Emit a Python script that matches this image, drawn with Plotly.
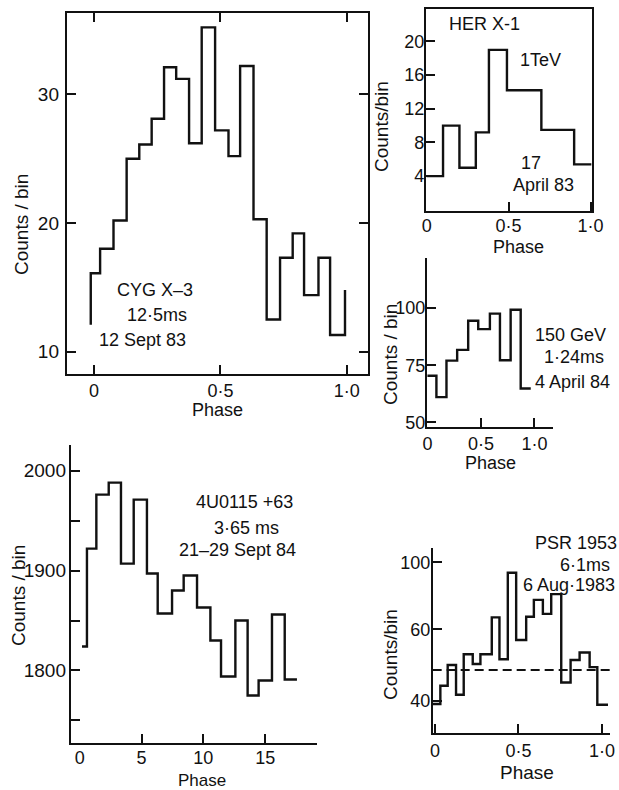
import plotly.graph_objects as go

# ---------------------------------------------------------------
# Phase histograms: bin edges (phase) and counts per bin
# ---------------------------------------------------------------
cyg_edges = [-0.013, 0.024, 0.077, 0.129, 0.179, 0.228, 0.277, 0.325, 0.376, 0.426,
             0.479, 0.532, 0.578, 0.631, 0.683, 0.736, 0.786, 0.831, 0.888, 0.934, 0.993]
cyg_counts = [16.1, 18.0, 20.2, 25.0, 26.1, 28.1, 32.1, 31.2, 26.2, 35.2,
              27.2, 25.2, 32.2, 20.3, 12.5, 17.3, 19.2, 14.4, 17.3, 11.3]
cyg_lead, cyg_trail = 12.1, 14.8

her_edges = [0.0, 0.1, 0.2, 0.3, 0.38, 0.49, 0.7, 0.9, 1.005]
her_counts = [4.0, 10.0, 5.0, 9.2, 19.0, 14.2, 9.5, 5.4]

gev_edges = [0.0, 0.084, 0.178, 0.278, 0.381, 0.475, 0.584, 0.678, 0.778, 0.872, 0.966]
gev_counts = [70.4, 61.0, 77.0, 81.7, 94.5, 90.8, 97.6, 77.2, 99.3, 64.8]

u_edges = [0.19, 0.59, 1.35, 2.35, 3.34, 4.37, 5.44, 6.31, 7.47, 8.41,
           9.49, 10.57, 11.43, 12.59, 13.58, 14.47, 15.55, 16.58, 17.57]
u_counts = [1824, 1922, 1976, 1988, 1907, 1971, 1897, 1857, 1880,
            1895, 1863, 1830, 1794, 1850, 1775, 1790, 1856, 1791]

psr_edges = [-0.014, 0.032, 0.076, 0.126, 0.172, 0.226, 0.272, 0.34, 0.386, 0.436,
             0.486, 0.546, 0.592, 0.646, 0.696, 0.756, 0.812, 0.866, 0.926, 0.972, 1.036]
psr_counts = [39.1, 44.2, 50.0, 41.7, 53.0, 50.3, 53.0, 63.3, 51.6, 75.8,
              57.0, 63.5, 68.2, 64.3, 69.8, 45.1, 51.4, 53.5, 49.4, 38.9]
psr_mean = 48.6

# tick values and printed tick labels
phase_ticks = [0, 0.5, 1.0]
phase_labels = ["0", "0·5", "1·0"]
cyg_yticks = [10, 20, 30]
her_yticks = [4, 8, 12, 16, 20]
gev_yticks = [50, 75, 100]
u_xticks = [0, 5, 10, 15]
u_yticks = [1750, 1800, 1850, 1900, 1950, 2000]
u_ylabels = ["", "1800", "", "1900", "", "2000"]
psr_yticks = [40, 60, 78.7]
psr_ylabels = ["40", "60", "100"]

W, H = 619, 790
FONT = "Liberation Sans, Arial, sans-serif"
INK = "#111111"
LW = 2.4


def fx(px):
    return px / W


def fy(py):
    return 1 - py / H


def steps(edges, counts, lead=None, trail=None):
    xs = list(edges)
    ys = list(counts) + [counts[-1]]
    if lead is not None:
        xs = [edges[0]] + xs
        ys = [lead] + ys
    if trail is not None:
        xs = xs + [edges[-1]]
        ys = ys + [trail]
    return xs, ys


def xaxis(left, right, rng, tickvals, ticktext, anchor, mirror=False, minor=None, size=18,
          standoff=0):
    ax = dict(domain=[fx(left), fx(right)], range=rng, anchor=anchor, automargin=False,
              showline=True, linecolor=INK, linewidth=LW, mirror=mirror,
              ticks="inside", ticklen=9, tickwidth=LW, tickcolor=INK,
              tickvals=tickvals, ticktext=ticktext, showgrid=False, zeroline=False,
              tickfont=dict(family=FONT, size=size, color=INK), ticklabelstandoff=standoff)
    if minor is not None:
        ax["ticks"] = ""
        ax["minor"] = dict(tickvals=minor, ticks="inside", ticklen=9,
                           tickwidth=LW, tickcolor=INK, showgrid=False)
    return ax


def yaxis(top, bottom, rng, tickvals, ticktext, anchor, mirror=False, size=19, standoff=0):
    return dict(domain=[fy(bottom), fy(top)], range=rng, anchor=anchor, automargin=False,
                showline=True, linecolor=INK, linewidth=LW, mirror=mirror,
                ticks="inside", ticklen=9, tickwidth=LW, tickcolor=INK,
                tickvals=tickvals, ticktext=ticktext, showgrid=False, zeroline=False,
                tickfont=dict(family=FONT, size=size, color=INK),
                ticklabelstandoff=standoff)


fig = go.Figure()


def add_hist(xs, ys, xa, ya):
    fig.add_trace(go.Scatter(x=xs, y=ys, mode="lines", line_shape="hv",
                             line=dict(color=INK, width=LW), xaxis=xa, yaxis=ya,
                             hoverinfo="skip"))


add_hist(*steps(cyg_edges, cyg_counts, cyg_lead, cyg_trail), "x", "y")
add_hist(*steps(her_edges, her_counts), "x2", "y2")
add_hist(*steps(gev_edges, gev_counts), "x3", "y3")
add_hist(*steps(u_edges, u_counts), "x4", "y4")
add_hist(*steps(psr_edges, psr_counts), "x5", "y5")
fig.add_trace(go.Scatter(x=[psr_edges[0], psr_edges[-1] + 0.01], y=[psr_mean, psr_mean],
                         mode="lines", line=dict(color=INK, width=1.8, dash="9px,5px"),
                         xaxis="x5", yaxis="y5", hoverinfo="skip"))

layout = dict(
    template="none",
    width=W, height=H, autosize=False, margin=dict(l=0, r=0, t=0, b=0, pad=0),
    paper_bgcolor="white", plot_bgcolor="rgba(0,0,0,0)", showlegend=False,
    font=dict(family=FONT, color=INK),
    # CYG X-3
    xaxis=xaxis(67, 368, [-0.107, 1.084], phase_ticks, phase_labels, "y", mirror="ticks",
                standoff=-1),
    yaxis=yaxis(13, 374, [8.27, 36.32], cyg_yticks, [str(v) for v in cyg_yticks], "x",
                mirror="ticks", standoff=2),
    # HER X-1
    xaxis2=xaxis(426, 592, [-0.004, 1.009], phase_ticks, phase_labels, "y2", mirror=True,
                 standoff=-3),
    yaxis2=yaxis(9, 211, [-0.14, 23.86], her_yticks, [str(v) for v in her_yticks], "x2",
                 mirror=True, size=18, standoff=-4),
    # 150 GeV
    xaxis3=xaxis(427, 553, [-0.004, 1.174], phase_ticks, phase_labels, "y3", standoff=-1),
    yaxis3=yaxis(258, 427, [47.9, 122.0], gev_yticks, [str(v) for v in gev_yticks], "x3",
                 size=18, standoff=-4),
    # 4U0115+63
    xaxis4=xaxis(71, 317, [-0.70, 19.19], u_xticks, [str(v) for v in u_xticks], "y4",
                 minor=[5, 10, 15], size=18, standoff=-3),
    yaxis4=yaxis(445, 743, [1727.4, 2025.7], u_yticks, u_ylabels, "x4", standoff=-1),
    # PSR 1953
    xaxis5=xaxis(433, 610, [-0.012, 1.048], phase_ticks, phase_labels, "y5"),
    yaxis5=yaxis(548, 733, [31.0, 82.7], psr_yticks, psr_ylabels, "x5", size=18,
                 standoff=-3),
)
fig.update_layout(**layout)


def label(text, px, py, size=18, angle=0, xanchor="center"):
    fig.add_annotation(text=text, x=fx(px), y=fy(py), xref="paper", yref="paper",
                       showarrow=False, textangle=angle, xanchor=xanchor, yanchor="middle",
                       font=dict(family=FONT, size=size, color=INK))


# axis titles
label("Counts / bin", 22, 225, 19, -90)
label("Phase", 217, 410, 18)
label("Counts/bin", 382, 127, 19, -90)
label("Phase", 518, 247, 18)
label("Counts / bin", 391, 355, 19, -90)
label("Phase", 490, 463, 18)
label("Counts / bin", 18, 596, 19, -90)
label("Phase", 202, 780, 17)
label("Counts/bin", 390, 655, 19, -90)
label("Phase", 527, 772, 19)

# panel legends
label("CYG X–3", 155, 290)
label("12·5ms", 157, 315)
label("12 Sept 83", 142, 340)

label("HER X-1", 484, 24)
label("1TeV", 540, 60)
label("17", 531, 163)
label("April 83", 543, 185)

label("150 GeV", 533, 335, xanchor="left")
label("1·24ms", 542, 357, xanchor="left")
label("4 April 84", 533, 382, xanchor="left")

label("4U0115 +63", 244, 502)
label("3·65 ms", 246, 528)
label("21–29 Sept 84", 237, 550)

label("PSR 1953", 576, 543)
label("6·1ms", 585, 565)
label("6 Aug·1983", 569, 585)

fig.write_html(
    "out.html",
    config={"responsive": False, "displayModeBar": False},
    post_script="document.body.style.margin='0';document.body.style.overflow='hidden';",
)
